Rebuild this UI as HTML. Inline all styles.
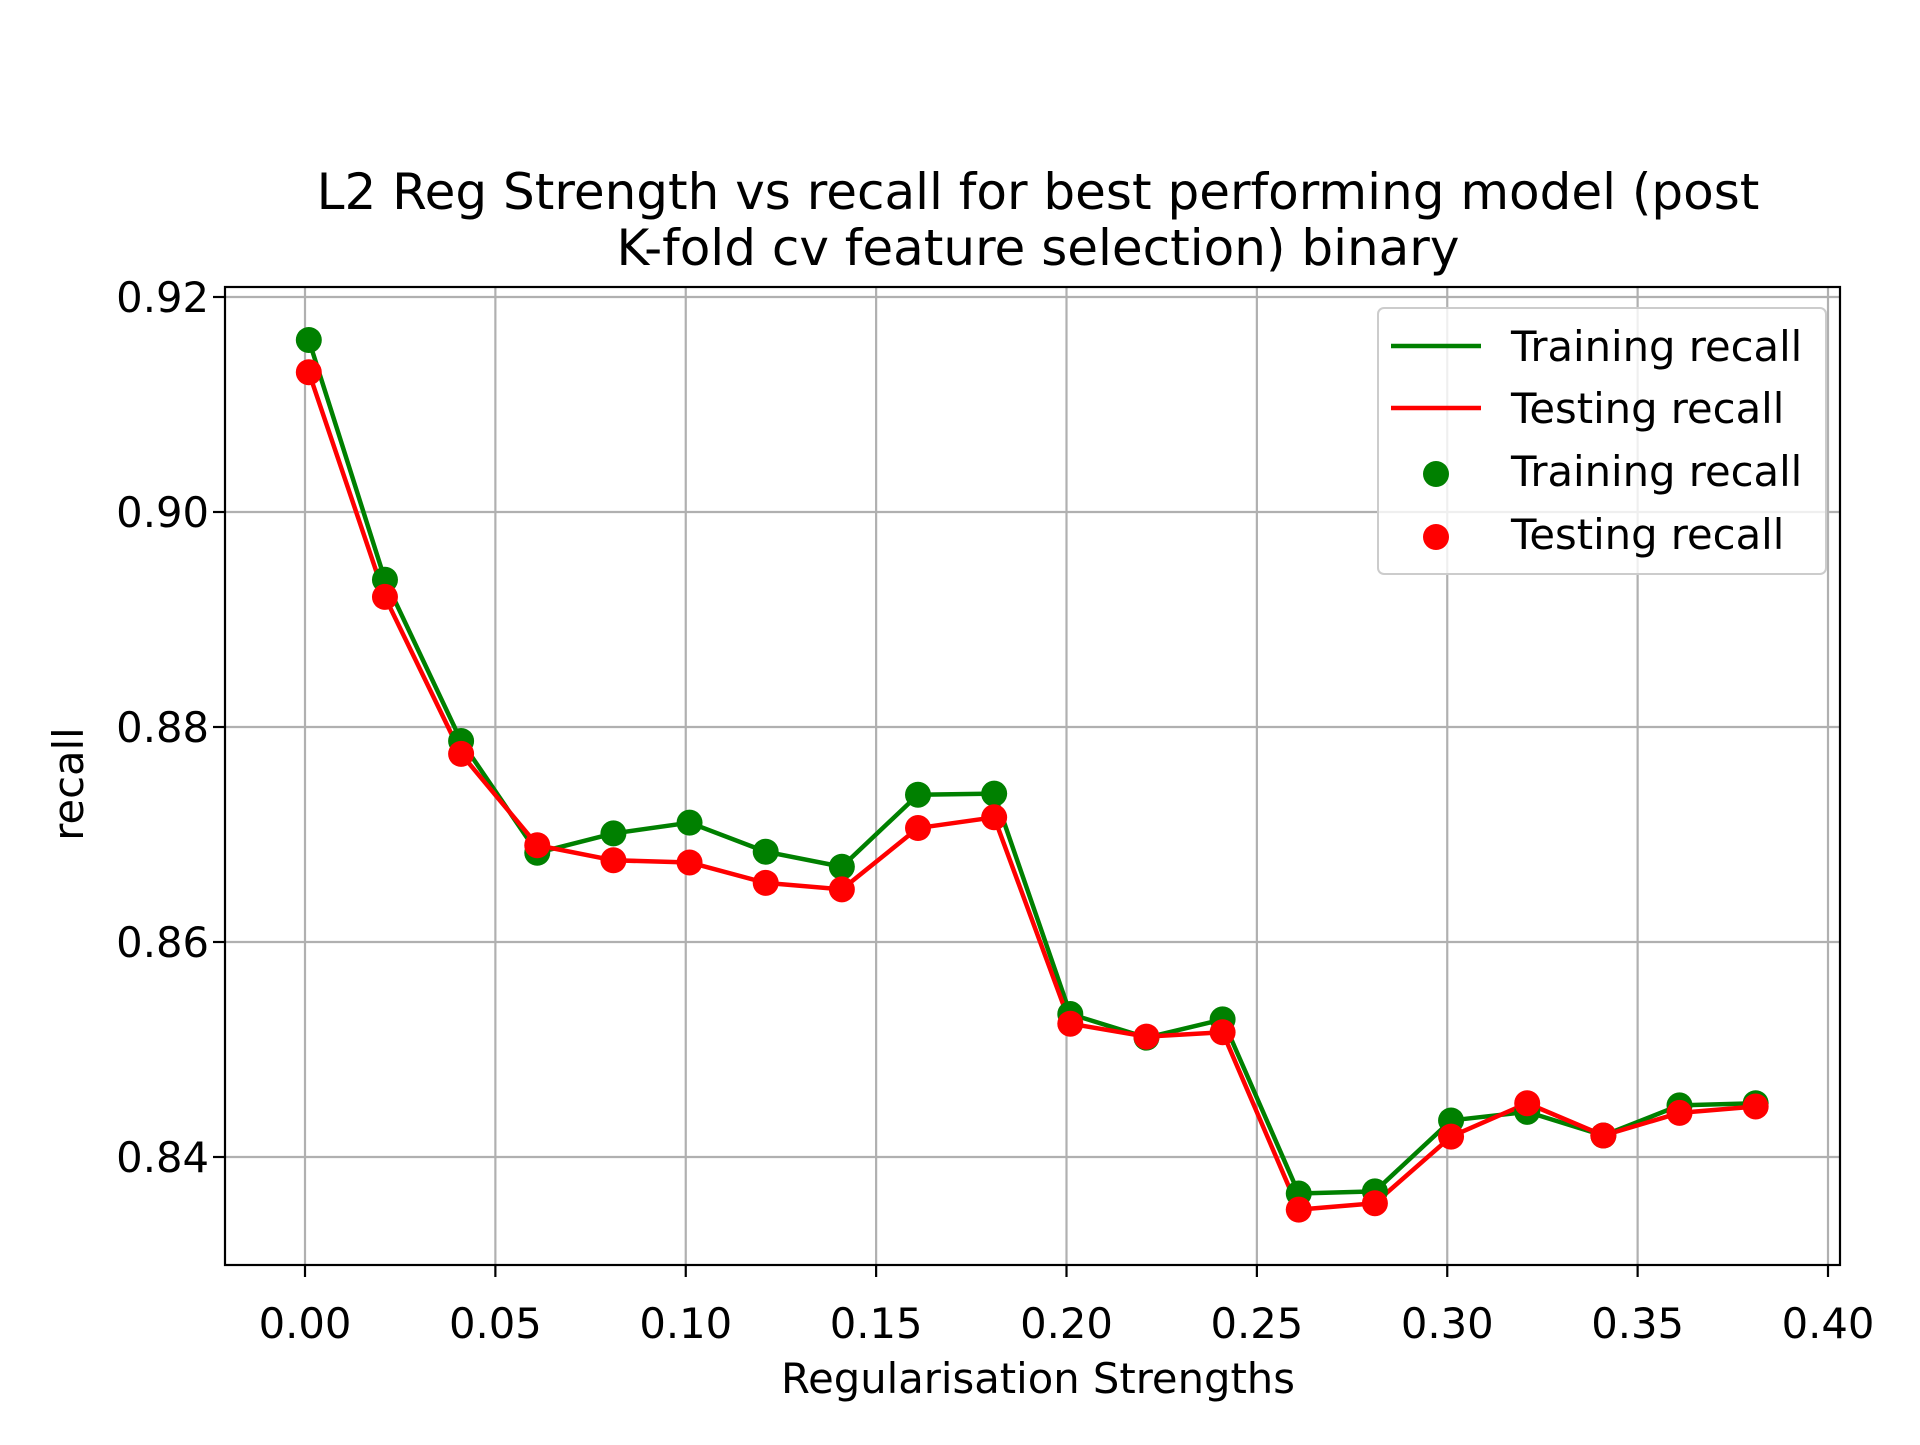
<!DOCTYPE html>
<html><head><meta charset="utf-8"><style>
html,body{margin:0;padding:0;background:#fff;}
svg text{font-family:"DejaVu Sans","Liberation Sans",sans-serif;fill:#000;}
</style></head><body>
<svg id="chart" width="1920" height="1440" xmlns="http://www.w3.org/2000/svg">
<rect width="1920" height="1440" fill="#fff"/>
<g id="grid"></g>
<g id="axes"></g>
<g id="series"></g>
<text x="1038" y="209" font-size="50" text-anchor="middle">L2 Reg Strength vs recall for best performing model (post</text>
<text x="1038" y="265" font-size="50" text-anchor="middle">K-fold cv feature selection) binary</text>
<text x="1038" y="1393" font-size="41.7" text-anchor="middle">Regularisation Strengths</text>
<text x="83" y="784" font-size="41.7" text-anchor="middle" transform="rotate(-90 83 784)">recall</text>
<g>
<rect x="1378" y="308" width="448" height="266" rx="6" fill="#fff" fill-opacity="0.8" stroke="#ccc" stroke-width="2"/>
<line x1="1391" y1="346" x2="1481" y2="346" stroke="green" stroke-width="4.5"/>
<text x="1511" y="361" font-size="41.7">Training recall</text>
<line x1="1391" y1="408" x2="1481" y2="408" stroke="red" stroke-width="4.5"/>
<text x="1511" y="423" font-size="41.7">Testing recall</text>
<circle cx="1436" cy="474" r="13" fill="green"/>
<text x="1511" y="486" font-size="41.7">Training recall</text>
<circle cx="1436" cy="537" r="13" fill="red"/>
<text x="1511" y="549" font-size="41.7">Testing recall</text>
</g>
</svg>
<script>
const xValues = [0.001,0.021,0.041,0.061,0.081,0.101,0.121,0.141,0.161,0.181,0.201,0.221,0.241,0.261,0.281,0.301,0.321,0.341,0.361,0.381];
const trainRecall = [0.9160,0.8937,0.8787,0.8683,0.8701,0.8711,0.8684,0.8670,0.8737,0.8738,0.8533,0.8511,0.8528,0.8366,0.8368,0.8434,0.8442,0.8420,0.8448,0.8450];
const testRecall = [0.9130,0.8921,0.8775,0.8690,0.8676,0.8674,0.8655,0.8649,0.8706,0.8716,0.8524,0.8512,0.8516,0.8351,0.8357,0.8419,0.8450,0.8420,0.8441,0.8447];
const xTicks = [0.00,0.05,0.10,0.15,0.20,0.25,0.30,0.35,0.40];
const yTicks = [0.84,0.86,0.88,0.90,0.92];

const NS="http://www.w3.org/2000/svg";
const L=225,R=1840,T=287,B=1265;
function xs(v){return 305+v*(1523/0.40);}
function ys(v){return 297+(0.92-v)*(215/0.02);}
function mk(tag,attrs,parent){const e=document.createElementNS(NS,tag);for(const k in attrs)e.setAttribute(k,attrs[k]);parent.appendChild(e);return e;}
const grid=document.getElementById('grid'),axes=document.getElementById('axes'),series=document.getElementById('series');
xTicks.forEach(t=>{
  const x=xs(t);
  const g=mk('line',{x1:x,y1:T,x2:x,y2:B,stroke:'#b0b0b0','stroke-width':2.2},grid);
  
  
  const tk=mk('line',{x1:x,y1:B,x2:x,y2:B+12,stroke:'#000','stroke-width':2.2},axes);
  
  
  const tx=mk('text',{x:x,y:1338,'font-size':41.7,'text-anchor':'middle'},axes);
  tx.textContent=t.toFixed(2);
  
  
});
yTicks.forEach(t=>{
  const y=ys(t);
  const g=mk('line',{x1:L,y1:y,x2:R,y2:y,stroke:'#b0b0b0','stroke-width':2.2},grid);
  
  
  const tk=mk('line',{x1:L-12,y1:y,x2:L,y2:y,stroke:'#000','stroke-width':2.2},axes);
  
  
  const tx=mk('text',{x:209,y:y+15,'font-size':41.7,'text-anchor':'end'},axes);
  tx.textContent=t.toFixed(2);
  
  
});
const frame=mk('rect',{x:L,y:T,width:R-L,height:B-T,fill:'none',stroke:'#000','stroke-width':2.2},axes);


function line(vals,color,name){
  const p=mk('polyline',{points:vals.map((v,i)=>xs(xValues[i])+','+ys(v)).join(' '),fill:'none',stroke:color,'stroke-width':4.5,'stroke-linejoin':'round'},series);
  
  
}
function dots(vals,color,name){
  vals.forEach((v,i)=>{
    const c=mk('circle',{cx:xs(xValues[i]),cy:ys(v),r:13,fill:color},series);
    
    
  });
}
line(trainRecall,'green','training-line');
line(testRecall,'red','testing-line');
dots(trainRecall,'green','training-point');
dots(testRecall,'red','testing-point');
</script>
</body></html>
